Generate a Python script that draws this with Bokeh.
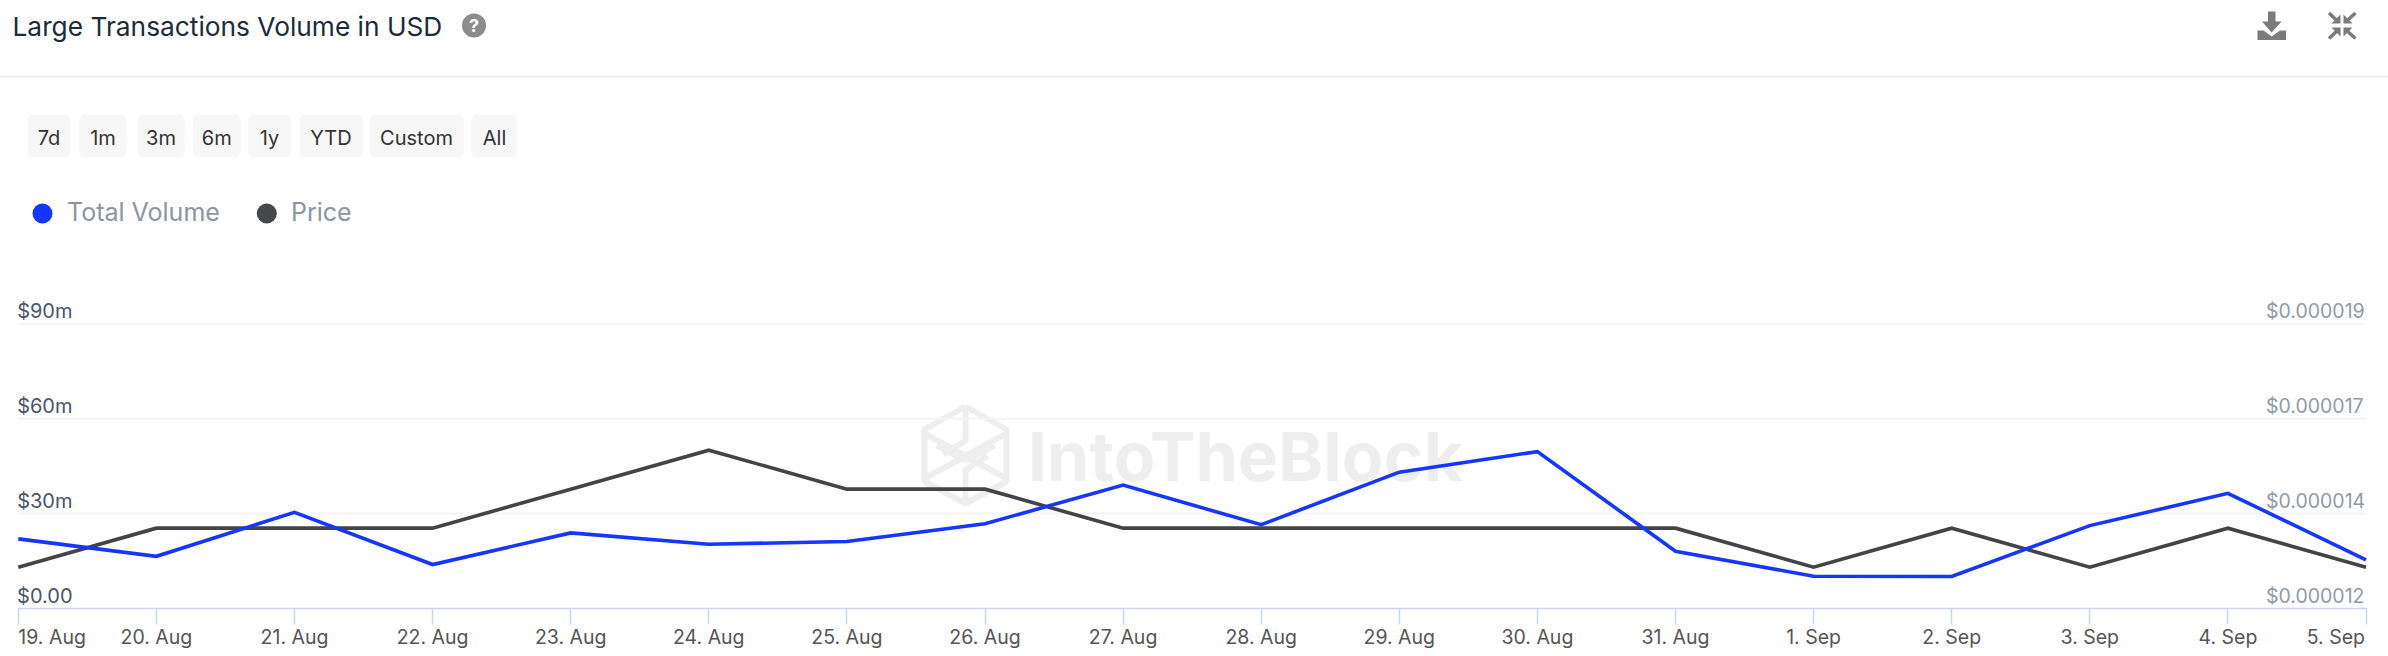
from bokeh.plotting import figure
from bokeh.embed import file_html
from bokeh.resources import INLINE
from bokeh.core.properties import value
from bokeh.models import Range1d, LinearAxis, FixedTicker

# ---- data ----
dates = ["19. Aug", "20. Aug", "21. Aug", "22. Aug", "23. Aug", "24. Aug", "25. Aug", "26. Aug", "27. Aug",
         "28. Aug", "29. Aug", "30. Aug", "31. Aug", "1. Sep", "2. Sep", "3. Sep", "4. Sep", "5. Sep"]
total_volume = [22.0, 16.5, 30.4, 13.9, 23.9, 20.3, 21.2, 26.8, 39.0,
                26.5, 43.1, 49.6, 18.1, 10.2, 10.1, 26.2, 36.4, 15.4]
price = [13, 14, 14, 14, 15, 16, 15, 15, 14, 14, 14, 14, 14, 13, 14, 13, 14, 13]  # in 1e-6 USD
volume_ticks = [0, 30, 60, 90]
volume_labels = ["$0.00", "$30m", "$60m", "$90m"]
price_labels = ["$0.000012", "$0.000014", "$0.000017", "$0.000019"]
ranges = ["7d", "1m", "3m", "6m", "1y", "YTD", "Custom", "All"]
legend_names = ["Total Volume", "Price"]

# ---- layout (reference pixels) ----
W, H = 2388, 656
Y0 = 608
X0, DX = 17.8, 138.1
VOL_PX = 3.1633
PRICE_PX = 39.0
PRICE_START = 11.94
LAB_SHIFT = 13
BLUE, DARK = "#1436ff", "#424448"
FONT = value("Inter")

xs = list(range(len(dates)))
x_range = Range1d(-X0 / DX, (W - X0) / DX)
y_range = Range1d(-(H - Y0) / VOL_PX, Y0 / VOL_PX)

p = figure(width=W, height=H, x_range=x_range, y_range=y_range, output_backend="svg",
           toolbar_location=None, min_border_left=0, min_border_right=0, min_border_top=0,
           min_border_bottom=0, x_axis_location=None, y_axis_location=None,
           outline_line_color=None, background_fill_color="white")
p.grid.visible = False

p.extra_y_ranges = {
    "price": Range1d(PRICE_START - (H - Y0) / PRICE_PX, PRICE_START + Y0 / PRICE_PX),
    "vol_lab": Range1d(-(H - Y0 + LAB_SHIFT) / VOL_PX, (Y0 - LAB_SHIFT) / VOL_PX),
    "price_lab": Range1d(PRICE_START - (H - Y0 + LAB_SHIFT) / PRICE_PX, PRICE_START + (Y0 - LAB_SHIFT) / PRICE_PX),
    "hy": Range1d(H, 0),
}
p.extra_x_ranges = {"hx": Range1d(0, W)}
H_KW = dict(x_range_name="hx", y_range_name="hy")

# header rule
p.segment([0], [76], [W], [76], line_color="#eeeeee", line_width=2, **H_KW)

# title + help icon
p.text([12], [26], text=["Large Transactions Volume in USD"], text_font=FONT, text_font_size="26.3px",
       text_color="#1c2b3a", text_baseline="middle", **H_KW)
p.scatter([473.5], [25], size=24, marker="circle", fill_color="#8c8c8c", line_color=None, **H_KW)
p.text([473.5], [25], text=["?"], text_font=FONT, text_font_size="18px", text_font_style="bold",
       text_color="white", text_align="center", text_baseline="middle", **H_KW)

# download icon
icon = "#7b7b7b"
p.patch([2267.5, 2275, 2275, 2281, 2271.2, 2261.5, 2267.5], [11, 11, 21, 21, 32, 21, 21], fill_color=icon, line_color=None, **H_KW)
p.patch([2257, 2263, 2271.2, 2279.5, 2285.5, 2285.5, 2257], [30, 30, 36, 30, 30, 39.5, 39.5], fill_color=icon, line_color=None, **H_KW)
# collapse icon
cx = [[2328.5, 2338], [2355, 2345], [2328.5, 2338], [2355, 2345]]
cy = [[12.5, 21.5], [12.5, 21.5], [38, 29], [38, 29]]
p.multi_line(cx, cy, line_color=icon, line_width=3.5, **H_KW)
p.patches([[2331, 2340, 2340], [2352, 2343, 2343], [2331, 2340, 2340], [2352, 2343, 2343]],
          [[23, 23, 14], [23, 23, 14], [27, 27, 36], [27, 27, 36]], fill_color=icon, line_color=None, **H_KW)

# range buttons
bl = [27, 79, 137, 192.5, 248, 299, 369, 471]
br = [70, 126, 184, 240, 290, 362, 463, 517]
p.quad(left=bl, right=br, top=[114] * 8, bottom=[157] * 8, fill_color="#f7f7f7", line_color=None,
       border_radius=5, **H_KW)
p.text([(a + b) / 2 for a, b in zip(bl, br)], [137] * 8, text=ranges, text_font=FONT, text_font_size="20px",
       text_color="#333333", text_align="center", text_baseline="middle", **H_KW)

# legend
p.scatter([42, 266.3], [213, 213], size=20, marker="circle", fill_color=[BLUE, "#45474c"], line_color=None, **H_KW)
p.text([66.5, 290.5], [211.5, 211.5], text=legend_names, text_font=FONT, text_font_size="25px",
       text_color="#8a96a3", text_baseline="middle", **H_KW)

# watermark
wm = "#eeeeee"
p.text([1027.5], [455], text=["IntoTheBlock"], text_font=FONT, text_font_size="68px", text_font_style="bold",
       text_color=wm, text_baseline="middle", **H_KW)
p.multi_line(
    [[965, 1006, 1006, 965, 924, 924, 965], [965, 965, 943], [965, 965, 987], [924, 1006], [924, 1006], [936, 965], [994, 965]],
    [[406, 429, 481, 503, 481, 429, 406], [406, 440, 454], [503, 470, 455], [433, 478], [478, 433], [445, 460], [445, 460]],
    line_color=wm, line_width=6, **H_KW)

# grid lines
for t in volume_ticks[1:]:
    p.line([0, len(dates) - 1], [t, t], line_color="#f4f4f4", line_width=2)

# data
p.line(xs, price, y_range_name="price", line_color=DARK, line_width=3.6, line_join="miter")
p.line(xs, total_volume, line_color=BLUE, line_width=3.6, line_join="miter")

# x axis
xax = LinearAxis(fixed_location=0, ticker=FixedTicker(ticks=xs), bounds=(0, len(dates) - 1),
                 major_label_overrides={i: (d if 0 < i < len(dates) - 1 else "") for i, d in enumerate(dates)},
                 axis_line_color="#ccd6eb", axis_line_width=1.5, major_tick_line_color="#ccd6eb",
                 major_tick_line_width=1.5, major_tick_out=16, major_tick_in=0, minor_tick_line_color=None,
                 major_label_text_font="Inter", major_label_text_font_size="19.5px",
                 major_label_text_color="#555555", major_label_standoff=0)
p.add_layout(xax, "below")
p.text([xs[0], xs[-1]], [0, 0], text=[dates[0], dates[-1]], text_font=FONT, text_font_size="19.5px",
       text_color="#555555", text_align=["left", "right"], text_baseline="top", x_offset=[0, -1], y_offset=[16, 16])

# y axes
yl = LinearAxis(y_range_name="vol_lab", fixed_location=(78 - X0) / DX, ticker=FixedTicker(ticks=volume_ticks),
                major_label_overrides=dict(zip(volume_ticks, volume_labels)), axis_line_color=None,
                major_tick_line_color=None, minor_tick_line_color=None, major_label_standoff=0,
                major_label_text_font="Inter", major_label_text_font_size="20px", major_label_text_color="#4a5568")
p.add_layout(yl, "left")
price_ticks = [PRICE_START + t * VOL_PX / PRICE_PX for t in volume_ticks]
yr = LinearAxis(y_range_name="price_lab", fixed_location=(2259.5 - X0) / DX, ticker=FixedTicker(ticks=price_ticks),
                major_label_overrides=dict(zip(price_ticks, price_labels)), axis_line_color=None,
                major_tick_line_color=None, minor_tick_line_color=None, major_label_standoff=0,
                major_label_text_font="Inter", major_label_text_font_size="19.5px", major_label_text_color="#8f9ba8")
p.add_layout(yr, "right")

open("out.html", "w").write(file_html(p, INLINE))
